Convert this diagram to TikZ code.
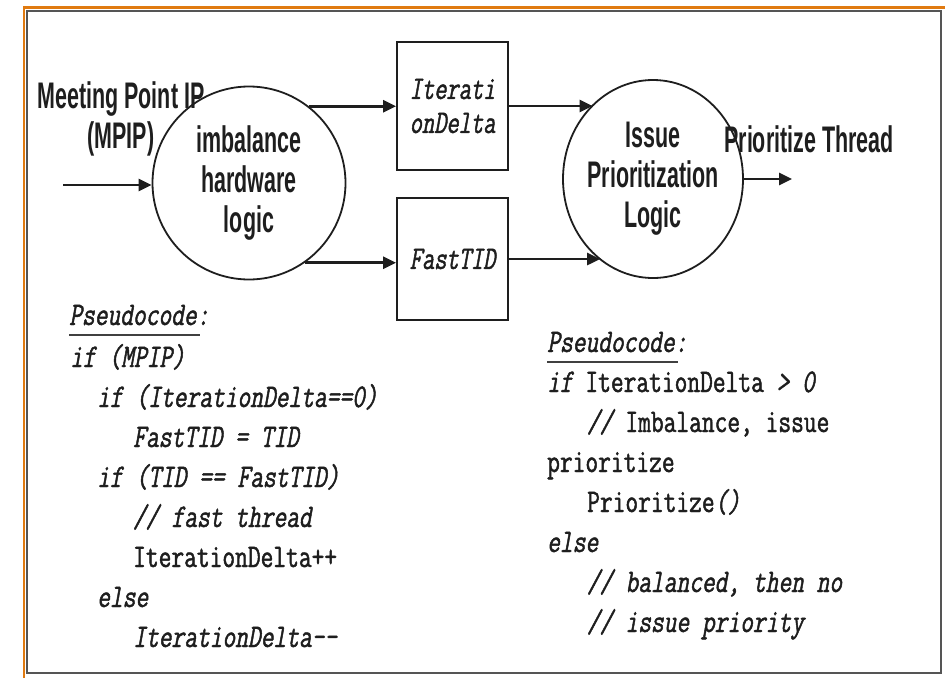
\documentclass[tikz,border=0pt]{standalone}
\usepackage{fontspec}
\usetikzlibrary{arrows.meta,shapes.geometric}
\newfontfamily\hwfont[FakeStretch=0.58]{Liberation Sans}
\newfontfamily\codefont[FakeStretch=0.75,FakeBold=1.4,
  ItalicFont={Latin Modern Mono},ItalicFeatures={FakeSlant=0.18}]{Latin Modern Mono}
\newfontfamily\regfont[FakeStretch=0.72,FakeBold=1.4,
  ItalicFont={Latin Modern Mono},ItalicFeatures={FakeSlant=0.18}]{Latin Modern Mono}
\definecolor{edgeorange}{HTML}{E07A10}
\definecolor{framegray}{HTML}{555555}
\definecolor{ink}{HTML}{1E1E1E}

\begin{document}
\begin{tikzpicture}[x=1pt,y=-1pt,
  arr/.style={line width=2.6pt,draw=ink,-{Triangle[length=13pt,width=12pt]}},
  logic/.style={draw=ink,line width=1.8pt,align=center,inner sep=-8pt,text=ink,
    font=\hwfont\bfseries\fontsize{37}{40}\selectfont},
  hwlabel/.style={align=center,inner sep=0pt,text=ink,
    font=\hwfont\bfseries\fontsize{37}{40}\selectfont},
  reg/.style={draw=ink,line width=1.8pt,align=center,inner sep=0pt,text=ink,
    minimum width=111pt,font=\regfont\itshape\fontsize{33}{34}\selectfont},
  code/.style={anchor=base west,inner sep=0pt,text=ink,
    font=\codefont\itshape\fontsize{33}{34}\selectfont},
  uline/.style={line width=2.6pt,draw=ink!85}
]
% page and frame
\fill[white] (0,0) rectangle (945,678);
\useasboundingbox (0,0) rectangle (945,678);
\draw[framegray,line width=2pt] (26.5,10.5) rectangle (941,673);
\draw[edgeorange,line width=2.2pt] (24,678) -- (24,7.5) -- (945,7.5);

% logic blocks
\node[logic,circle,minimum size=193pt] (imb) at (249,183) {imbalance\\hardware\\logic};
\node[logic,ellipse,minimum width=180pt,minimum height=198pt] (ipl) at (653,179)
  {Issue\\Prioritization\\Logic};

% registers
\node[reg,minimum height=128pt] (delta) at (452.5,106) {Iterati\\onDelta};
\node[reg,minimum height=122pt] (fast) at (452.5,259) {FastTID};

% input and output labels
\node[hwlabel] (mpip) at (121,119) {Meeting Point IP\\(MPIP)};
\node[hwlabel,anchor=base] (prio) at (809,152) {Prioritize Thread};

\coordinate (mpin) at (63,185);
\coordinate (pout) at (792,179);

% connectors
\draw[arr] (mpin) -- (mpin -| imb.west);
\draw[arr] (imb.52) -- (imb.52 -| delta.west);
\draw[arr] (imb.-55) -- (imb.-55 -| fast.west);
\draw[arr] (delta.east) -- (delta.east -| ipl.129);
\draw[arr] (fast.east) -- (fast.east -| ipl.-123);
\draw[arr] (ipl.east) -- (pout);

% pseudocode of the imbalance logic
\node[code] (la) at (69,325) {Pseudocode:};
\draw[uline] ([yshift=-10pt]la.base west) -- ++(131,0);
\node[code] (lb) at (70,367) {if (MPIP)};
\node[code] (lc) at (97,407) {if (IterationDelta==0)};
\node[code] (ld) at (133,447) {FastTID = TID};
\node[code] (le) at (97,487) {if (TID == FastTID)};
\node[code] (lf) at (133,527) {// fast thread};
\node[code] (lg) at (133,567) {\upshape IterationDelta++};
\node[code] (lh) at (97,607) {else};
\node[code] (li) at (133,647) {IterationDelta--};

% pseudocode of the prioritization logic
\node[code] (ra) at (547,352) {Pseudocode:};
\draw[uline] ([yshift=-10pt]ra.base west) -- ++(131,0);
\node[code] (rb) at (547,392) {if {\upshape IterationDelta} > 0};
\node[code] (rc) at (587,432) {// {\upshape Imbalance, issue}};
\node[code] (rd) at (547,472) {\upshape prioritize};
\node[code] (re) at (587,512) {{\upshape Prioritize}()};
\node[code] (rf) at (547,552) {else};
\node[code] (rg) at (587,592) {// balanced, then no};
\node[code] (rh) at (587,632) {// issue priority};
\end{tikzpicture}
\end{document}
